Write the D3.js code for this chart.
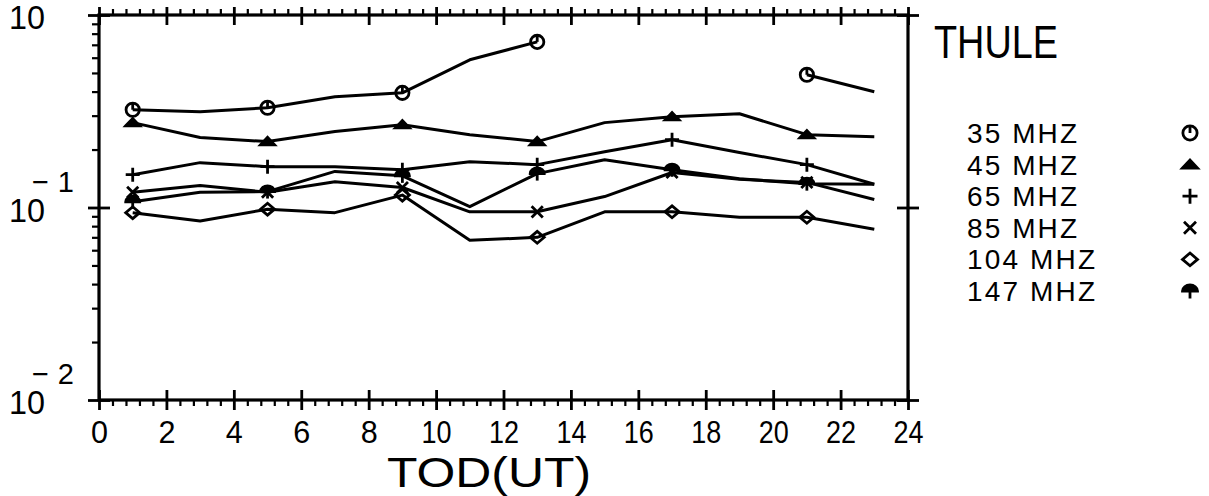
<!DOCTYPE html>
<html>
<head>
<meta charset="utf-8">
<script src="https://cdn.jsdelivr.net/npm/d3@7"></script>
<style>
  html, body { margin: 0; padding: 0; background: #fff; }
  svg { display: block; }
  text { font-family: "Liberation Sans", Arial, sans-serif; fill: #000; }
</style>
</head>
<body>
<svg id="chart" width="1209" height="496"></svg>
<script>
// ---- data ----
const hours = [1, 3, 5, 7, 9, 11, 13, 15, 17, 19, 21, 23];
const markerHours = [1, 5, 9, 13, 17, 21];
const seriesNames = ["35 MHZ", "45 MHZ", "65 MHZ", "85 MHZ", "104 MHZ", "147 MHZ"];
const seriesSymbols = ["circle", "triangle", "plus", "cross", "diamond", "umbrella"];
const f35  = [0.322, 0.314, 0.330, 0.376, 0.394, 0.585, 0.725, null, null, null, 0.489, 0.399];
const f45  = [0.276, 0.231, 0.220, 0.248, 0.269, 0.239, 0.220, 0.276, 0.296, 0.307, 0.239, 0.233];
const f65  = [0.148, 0.171, 0.163, 0.163, 0.157, 0.173, 0.167, 0.195, 0.225, 0.193, 0.167, 0.132];
const f85  = [0.120, 0.130, 0.120, 0.136, 0.127, 0.095, 0.095, 0.114, 0.152, 0.140, 0.135, 0.110];
const f104 = [0.094, 0.085, 0.098, 0.094, 0.116, 0.0675, 0.070, 0.095, 0.095, 0.089, 0.089, 0.077];
const f147 = [0.107, 0.120, 0.121, 0.154, 0.146, 0.101, 0.150, 0.177, 0.157, 0.141, 0.133, 0.132];
const seriesValues = [f35, f45, f65, f85, f104, f147];
const xTickValues = [0, 2, 4, 6, 8, 10, 12, 14, 16, 18, 20, 22, 24];
const yTickValues = [1, 0.1, 0.01];
const yTickBases = ["10", "10", "10"];
const yTickExps = ["", "\u22121", "\u22122"];
const chartTitle = "THULE";
const xTitle = "TOD(UT)";

// ---- layout ----
const L = 99, R = 908, T = 15, B = 400;
const svg = d3.select("#chart");
const x = d3.scaleLinear().domain([0, 24]).range([L, R]);
const y = d3.scaleLog().domain([0.01, 1]).range([B, T]);

// minor ticks
const xMinor = d3.range(0, 24.001, 0.4).filter(v => Math.abs(v / 2 - Math.round(v / 2)) > 0.01);
const yMinor = [];
[0.01, 0.1].forEach(d => { for (let k = 2; k <= 9; k++) yMinor.push(d * k); });

function styleAxis(g) {
  g.select(".domain").remove();
  g.selectAll(".tick line").attr("stroke", "#000").attr("stroke-width", 2.8);
}

// bottom axis: major crossing ticks + labels, minor outward
svg.append("g").attr("transform", `translate(0,${B})`)
  .call(d3.axisBottom(x).tickValues(xTickValues).tickSize(10).tickPadding(10).tickFormat(d3.format("d")))
  .call(styleAxis)
  .call(g => g.selectAll(".tick text")
    .attr("font-size", 32).attr("font-family", "Liberation Sans")
    .each(function(d) {
      d3.select(this).attr("textLength", String(d).length > 1 ? 30 : 17).attr("lengthAdjust", "spacingAndGlyphs");
    }));
svg.append("g").attr("transform", `translate(0,${B})`)
  .call(d3.axisBottom(x).tickValues(xTickValues).tickSize(-10).tickFormat(""))
  .call(styleAxis);
svg.append("g").attr("transform", `translate(0,${B})`)
  .call(d3.axisBottom(x).tickValues(xMinor).tickSize(6).tickFormat(""))
  .call(styleAxis).call(g => g.selectAll(".tick line").attr("stroke-width", 2.2));

// top axis
svg.append("g").attr("transform", `translate(0,${T})`)
  .call(d3.axisTop(x).tickValues(xTickValues).tickSize(8).tickFormat(""))
  .call(styleAxis);
svg.append("g").attr("transform", `translate(0,${T})`)
  .call(d3.axisTop(x).tickValues(xTickValues).tickSize(-10).tickFormat(""))
  .call(styleAxis);
svg.append("g").attr("transform", `translate(0,${T})`)
  .call(d3.axisTop(x).tickValues(xMinor).tickSize(6).tickFormat(""))
  .call(styleAxis).call(g => g.selectAll(".tick line").attr("stroke-width", 2.2));

// left axis
svg.append("g").attr("transform", `translate(${L},0)`)
  .call(d3.axisLeft(y).tickValues(yTickValues).tickSize(11).tickFormat(""))
  .call(styleAxis);
svg.append("g").attr("transform", `translate(${L},0)`)
  .call(d3.axisLeft(y).tickValues(yTickValues).tickSize(-11).tickFormat(""))
  .call(styleAxis);
svg.append("g").attr("transform", `translate(${L},0)`)
  .call(d3.axisLeft(y).tickValues(yMinor).tickSize(7).tickFormat(""))
  .call(styleAxis).call(g => g.selectAll(".tick line").attr("stroke-width", 2.2));

// right axis
svg.append("g").attr("transform", `translate(${R},0)`)
  .call(d3.axisRight(y).tickValues(yTickValues).tickSize(11).tickFormat(""))
  .call(styleAxis);
svg.append("g").attr("transform", `translate(${R},0)`)
  .call(d3.axisRight(y).tickValues(yTickValues).tickSize(-11).tickFormat(""))
  .call(styleAxis);

// frame
svg.append("rect").attr("x", L).attr("y", T).attr("width", R - L).attr("height", B - T)
  .attr("fill", "none").attr("stroke", "#000").attr("stroke-width", 3.2);

// y tick labels (10, 10^-1, 10^-2)
const yl = svg.append("g");
yTickValues.forEach((v, i) => {
  const yy = y(v);
  const baseY = yy + 14;
  yl.append("text").attr("x", 9).attr("y", baseY).attr("font-size", 33)
    .attr("textLength", 36).attr("lengthAdjust", "spacingAndGlyphs").text(yTickBases[i]);
  if (yTickExps[i]) {
    yl.append("text").attr("x", 32).attr("y", baseY - 30).attr("font-size", 29)
      .attr("textLength", 42).attr("lengthAdjust", "spacing").text(yTickExps[i]);
  }
});

// x title
svg.append("text").attr("x", 489).attr("y", 487).attr("text-anchor", "middle")
  .attr("font-size", 42).attr("textLength", 204).attr("lengthAdjust", "spacingAndGlyphs").text(xTitle);

// series lines
const line = d3.line().defined(d => d.v != null).x(d => x(d.h)).y(d => y(d.v));
const plot = svg.append("g");
seriesValues.forEach((vals, i) => {
  const data = hours.map((h, j) => ({ h, v: vals[j] }));
  plot.append("path").datum(data).attr("d", line)
    .attr("fill", "none").attr("stroke", "#000").attr("stroke-width", 3).attr("stroke-linejoin", "round");
});

// marker drawing
function drawMarker(g, type, cx, cy, s) {
  const m = g.append("g").attr("transform", `translate(${cx},${cy})`);
  const st = { stroke: "#000", "stroke-width": 2.8, fill: "none" };
  const ap = (sel, o) => { Object.entries(o).forEach(([k, v]) => sel.attr(k, v)); return sel; };
  if (type === "circle") {
    ap(m.append("circle").attr("r", s * 0.95), st);
    ap(m.append("line").attr("x1", 0).attr("y1", -s).attr("x2", 0).attr("y2", 0), st);
  } else if (type === "triangle") {
    ap(m.append("path").attr("d", `M${-s},${s * 0.45}L0,${-s * 0.6}L${s},${s * 0.45}Z`), st).attr("fill", "#000");
  } else if (type === "plus") {
    ap(m.append("path").attr("d", `M${-s},0H${s}M0,${-s}V${s}`), st);
  } else if (type === "cross") {
    const c = s * 0.8;
    ap(m.append("path").attr("d", `M${-c},${-c}L${c},${c}M${-c},${c}L${c},${-c}`), st);
  } else if (type === "diamond") {
    ap(m.append("path").attr("d", `M0,${-s * 0.85}L${s},0L0,${s * 0.85}L${-s},0Z`), st);
  } else if (type === "umbrella") {
    ap(m.append("path").attr("d", `M${-s},0A${s},${s * 0.8} 0 0 1 ${s},0Z`), st).attr("fill", "#000");
    ap(m.append("line").attr("x1", 0).attr("y1", -s * 0.8).attr("x2", 0).attr("y2", s), st);
  }
}

seriesValues.forEach((vals, i) => {
  hours.forEach((h, j) => {
    if (vals[j] == null || !markerHours.includes(h)) return;
    drawMarker(plot, seriesSymbols[i], x(h), y(vals[j]), 7);
  });
});

// legend
svg.append("text").attr("x", 934).attr("y", 58).attr("font-size", 46)
  .attr("textLength", 124).attr("lengthAdjust", "spacingAndGlyphs").text(chartTitle);
const legTop = 133, legStep = 31.6;
seriesNames.forEach((name, i) => {
  const cy = legTop + i * legStep;
  const tl = name.length > 6 ? 128 : 110;
  svg.append("text").attr("x", 967).attr("y", cy + 10).attr("font-size", 28)
    .attr("textLength", tl).attr("lengthAdjust", "spacing").text(name);
  drawMarker(svg, seriesSymbols[i], 1190, cy, 7.5);
});
</script>
</body>
</html>
